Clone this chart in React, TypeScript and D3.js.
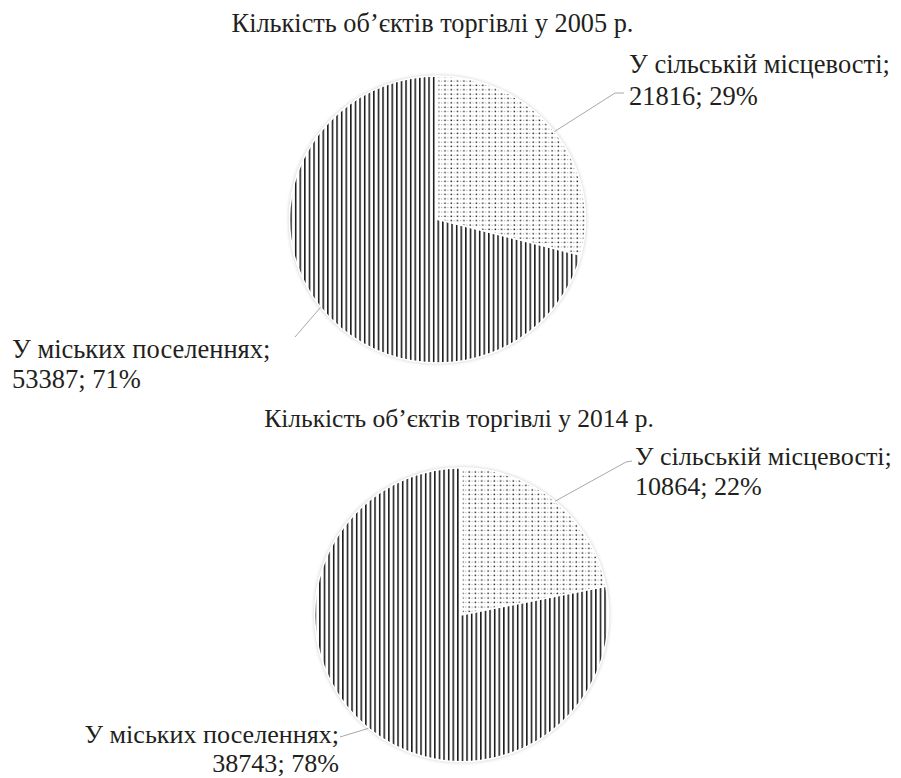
import * as React from "react";
import * as d3 from "d3";

// data
const categories = ["У сільській місцевості", "У міських поселеннях"];
const titles = [
  "Кількість об’єктів торгівлі у 2005 р.",
  "Кількість об’єктів торгівлі у 2014 р.",
];
const values2005 = [21816, 53387];
const values2014 = [10864, 38743];
const percents2005 = [29, 71];
const percents2014 = [22, 78];

const TEXT_COLOR = "#231f20";
const LEADER_COLOR = "#a8a8a8";
const FONT = "'Liberation Serif', 'Times New Roman', Times, serif";

type LabelLayout = {
  x: number;
  y1: number;
  y2: number;
  anchor: "start" | "end";
  leader: [number, number][];
};

type PieLayout = {
  cx: number;
  cy: number;
  rx: number;
  ry: number;
  titleX: number;
  titleY: number;
  titleSize: number;
  labelSize: number;
  labels: LabelLayout[];
};

const layouts: PieLayout[] = [
  {
    cx: 437.5,
    cy: 219.5,
    rx: 148,
    ry: 143.5,
    titleX: 432.5,
    titleY: 32,
    titleSize: 26.3,
    labelSize: 26.5,
    labels: [
      { x: 629, y1: 73, y2: 105, anchor: "start", leader: [[615, 93], [624, 93]] },
      { x: 12, y1: 358, y2: 388, anchor: "start", leader: [[295, 337]] },
    ],
  },
  {
    cx: 461.7,
    cy: 614.8,
    rx: 147,
    ry: 147,
    titleX: 459,
    titleY: 427,
    titleSize: 25.5,
    labelSize: 26.1,
    labels: [
      { x: 635, y1: 465, y2: 495, anchor: "start", leader: [[626, 462], [632, 461]] },
      { x: 339, y1: 743, y2: 772, anchor: "end", leader: [[340, 737]] },
    ],
  },
];

const series = [
  { values: values2005, percents: percents2005 },
  { values: values2014, percents: percents2014 },
];

const fills = ["url(#dots)", "url(#stripes)"];

function PieChart({ index }: { index: number }) {
  const lay = layouts[index];
  const { values, percents } = series[index];

  const arcs = React.useMemo(
    () => d3.pie<number>().sort(null).value((d) => d)(values),
    [values]
  );
  const arc = d3.arc<d3.PieArcDatum<number>>().innerRadius(0).outerRadius(lay.rx);
  const sy = lay.ry / lay.rx;

  // label lines: [text, x, y, anchor]
  const labelLines: [string, number, number, "start" | "end"][] = [];
  arcs.forEach((a, i) => {
    const lab = lay.labels[i];
    labelLines.push([categories[i] + ";", lab.x, lab.y1, lab.anchor]);
    labelLines.push([`${values[i]}; ${percents[i]}%`, lab.x, lab.y2, lab.anchor]);
  });

  return (
    <g>
      <text
        x={lay.titleX}
        y={lay.titleY}
        textAnchor="middle"
        fontSize={lay.titleSize}
        fill={TEXT_COLOR}
      >
        {titles[index]}
      </text>

      <ellipse
        cx={lay.cx}
        cy={lay.cy}
        rx={lay.rx}
        ry={lay.ry}
        fill="#000"
        opacity={0.28}
        filter="url(#soft)"
      />
      <g transform={`translate(${lay.cx},${lay.cy}) scale(1,${sy})`}>
        {arcs.map((a, i) => (
          <path key={i} d={arc(a) ?? undefined} fill="#fff" />
        ))}
        {arcs.map((a, i) => (
          <path
            key={`p${i}`}
            d={arc(a) ?? undefined}
            fill={fills[i]}
            stroke="#fff"
            strokeWidth={1.5}
          />
        ))}
      </g>

      {arcs.map((a, i) => {
        const mid = (a.startAngle + a.endAngle) / 2;
        const start: [number, number] = [
          lay.cx + lay.rx * Math.sin(mid),
          lay.cy - lay.ry * Math.cos(mid),
        ];
        const line = d3.line()([start, ...lay.labels[i].leader]) ?? "";
        return (
          <path key={`l${i}`} d={line} fill="none" stroke={LEADER_COLOR} strokeWidth={1} />
        );
      })}

      {labelLines.map(([str, x, y, anchor], k) => (
        <text
          key={`t${k}`}
          x={x}
          y={y}
          textAnchor={anchor}
          fontSize={lay.labelSize}
          fill={TEXT_COLOR}
        >
          {str}
        </text>
      ))}
    </g>
  );
}

export default function App() {
  return (
    <svg
      width={901}
      height={778}
      style={{
        position: "absolute",
        left: 0,
        top: 0,
        background: "#fff",
        fontFamily: FONT,
      }}
    >
      <defs>
        <pattern id="stripes" patternUnits="userSpaceOnUse" width={4.6} height={10}>
          <rect x={0} y={0} width={1.5} height={10} fill="#111" />
        </pattern>
        <pattern id="dots" patternUnits="userSpaceOnUse" width={6.3} height={4.5}>
          <rect x={0} y={0} width={6.3} height={4.5} fill="#fff" />
          <rect x={0.5} y={0.5} width={1.4} height={1.4} fill="#111" />
          <rect x={3.6} y={0.8} width={1.1} height={0.9} fill="#999" />
        </pattern>
        <filter id="soft" x="-10%" y="-10%" width="120%" height="120%">
          <feGaussianBlur stdDeviation={2.2} />
        </filter>
      </defs>
      <rect width={901} height={778} fill="#fff" />
      <PieChart index={0} />
      <PieChart index={1} />
    </svg>
  );
}
